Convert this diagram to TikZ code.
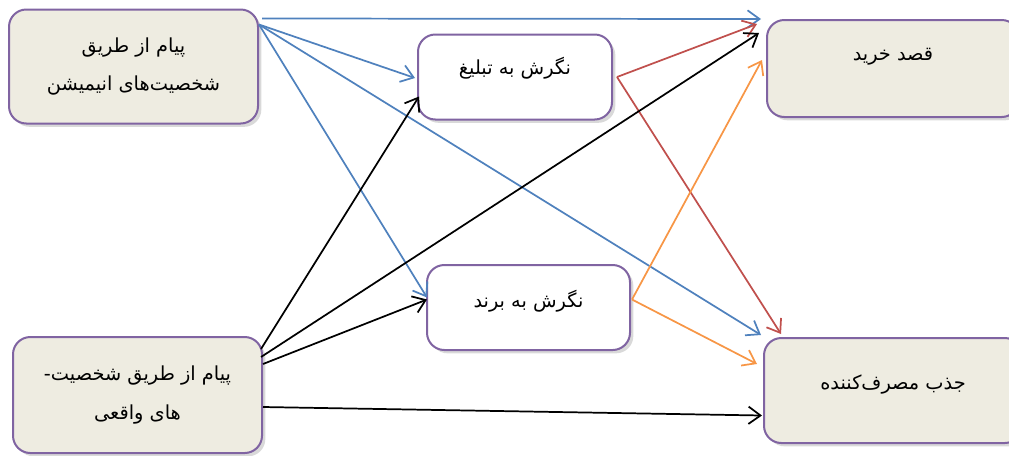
\documentclass[tikz,border=0pt]{standalone}
\usepackage{fontspec}
\newfontfamily\arabicfont[Script=Arabic]{DejaVu Sans}
\TeXXeTstate=1
\usetikzlibrary{arrows.meta, shadows}
\definecolor{boxborder}{HTML}{8064A2}
\definecolor{boxfill}{HTML}{EEECE1}
\definecolor{linkblue}{HTML}{4F81BD}
\definecolor{linkred}{HTML}{C0504D}
\definecolor{linkorange}{HTML}{F79646}

\begin{document}
\begin{tikzpicture}[
    x=0.75pt, y=-0.75pt,
    box/.style={draw=boxborder, line width=1.5pt, align=center, fill=boxfill, rounded corners=13pt,
        drop shadow={shadow xshift=2.5pt, shadow yshift=-2.5pt, opacity=0.3},
        font=\arabicfont\fontsize{14.5}{29}\selectfont},
    whitebox/.style={box, fill=white},
    raised/.style={text height=12pt, text depth=#1},
    arrow/.style={-{Straight Barb[length=9pt, width=13pt]}, line width=1.3pt}
]
\useasboundingbox (0,0) rectangle (1009,455);

% Nodes
\node[box, minimum width=186.75pt, minimum height=85.5pt] (animation) at (133.5,66.5)
    {\beginR پیام از طریق\endR\\\beginR شخصیت^^^^200cهای انیمیشن\endR};
\node[box, minimum width=186.75pt, minimum height=87pt] (real) at (137.5,395)
    {\beginR پیام از طریق شخصیت-\endR\\\beginR های واقعی\endR};
\node[whitebox, raised=16pt, minimum width=145.5pt, minimum height=63.75pt] (adattitude) at (515,77)
    {\beginR نگرش به تبلیغ\endR};
\node[whitebox, raised=12pt, minimum width=152.25pt, minimum height=63.75pt] (brandattitude) at (528.5,307.5)
    {\beginR نگرش به برند\endR};
\node[box, raised=24pt, minimum width=189pt, minimum height=72.75pt] (intention) at (893,68.5)
    {\beginR قصد خرید\endR};
\node[box, raised=14pt, minimum width=193.5pt, minimum height=78.75pt] (attraction) at (893,390.5)
    {\beginR جذب مصرف^^^^200cکننده\endR};

% Arrows
\draw[arrow, linkblue] ([shift={(3,10)}]animation.north east) -- ([shift={(-5,0)}]intention.north west);
\draw[arrow, linkblue] ([shift={(0,16)}]animation.north east) -- ([shift={(-2,1)}]adattitude.west);
\draw[arrow, linkblue] ([shift={(0,16)}]animation.north east) -- ([shift={(1,-10)}]brandattitude.west);
\draw[arrow, linkblue] ([shift={(0,16)}]animation.north east) -- ([shift={(-2,-2)}]attraction.north west);

\draw[arrow, linkred] ([shift={(4,0)}]adattitude.east) -- ([shift={(-9,5)}]intention.north west);
\draw[arrow, linkred] ([shift={(4,0)}]adattitude.east) -- ([shift={(18,-3)}]attraction.north west);

\draw[arrow] ([shift={(-2,13)}]real.north east) -- ([shift={(2,-24)}]adattitude.south west);
\draw[arrow] ([shift={(-2,21)}]real.north east) -- ([shift={(-7,14)}]intention.north west);
\draw[arrow] ([shift={(0,28)}]real.north east) -- ([shift={(1,-8)}]brandattitude.west);
\draw[arrow] ([shift={(0,71)}]real.north east) -- ([shift={(-1,25)}]attraction.west);

\draw[arrow, linkorange] ([shift={(1,-8)}]brandattitude.east) -- ([shift={(-4,41)}]intention.north west);
\draw[arrow, linkorange] ([shift={(1,-8)}]brandattitude.east) -- ([shift={(-6,27)}]attraction.north west);

\end{tikzpicture}
\end{document}
